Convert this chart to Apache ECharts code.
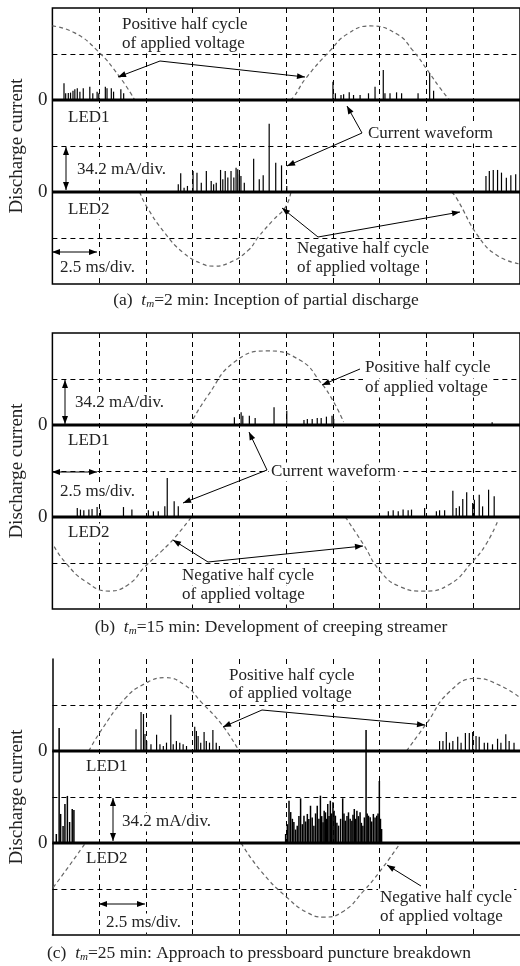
<!DOCTYPE html>
<html><head><meta charset="utf-8">
<script src="https://cdn.jsdelivr.net/npm/echarts@6/dist/echarts.min.js"></script>
<style>html,body{margin:0;padding:0;background:#fff}#c{width:520px;height:966px}</style>
</head><body><div id="c"></div>
<script>
// ---------- axis settings ----------
const T_MIN = 0, T_MAX = 25, T_DIV = 2.5;          // ms, 2.5 ms/div
const Y_MIN = -3, Y_MAX = 3, Y_DIV = 1;            // screen divisions
const MA_PER_DIV = 34.2;                           // 34.2 mA/div
const LED1_OFF = 1, LED2_OFF = -1;                 // trace zero lines (div)
const V_AMP_DIV = 1.61;                            // voltage peak height (div)
const yTickLabels = ['0', '0'];

// ---------- discharge current pulses [time ms, current mA] ----------
const a_led1 = [[0.62,12.4],[0.71,5.0],[0.85,5.2],[0.97,5.5],[1.10,6.9],[1.20,7.9],[1.33,8.7],[1.47,6.2],[1.65,8.7],[2.00,9.9],[2.16,5.0],[2.39,6.2],[2.48,5.0],[2.83,9.9],[2.92,8.7],[3.15,8.7],[3.27,6.2],[3.66,7.9],[3.81,5.0],[15.00,13.6],[15.13,5.0],[15.43,3.7],[15.57,4.2],[15.87,5.7],[16.10,3.7],[16.45,3.7],[16.90,5.0],[17.25,9.9],[17.69,22.3],[17.78,5.0],[18.05,5.0],[18.40,5.7],[18.67,5.0],[19.55,5.0],[20.17,19.8],[20.38,6.9]];
const a_led2 = [[6.73,5.7],[6.86,13.9],[7.04,3.2],[7.22,4.5],[7.52,15.6],[7.73,14.4],[7.96,6.9],[8.23,15.6],[8.49,8.2],[8.62,5.7],[8.76,6.9],[8.99,16.4],[9.11,9.4],[9.24,15.6],[9.38,10.7],[9.55,15.6],[9.70,10.7],[9.82,18.1],[9.91,16.9],[10.00,13.1],[10.08,11.9],[10.26,6.9],[10.76,24.8],[11.06,9.4],[11.27,12.4],[11.59,50.8],[11.94,21.8],[12.25,19.8],[12.53,4.5],[23.18,11.9],[23.36,15.6],[23.57,16.4],[23.80,16.4],[24.01,14.4],[24.27,10.6],[24.51,12.4],[24.77,13.2]];
const b_led1 = [[9.73,5.7],[10.09,9.4],[10.18,6.9],[10.53,6.9],[10.84,5.2],[11.85,13.2],[12.53,10.6],[13.45,3.7],[13.63,4.5],[13.89,4.5],[14.16,5.2],[14.37,5.2],[14.65,6.2],[14.95,6.9],[15.04,4.5],[23.51,2.0]];
const b_led2 = [[1.33,6.7],[1.50,5.5],[1.68,5.0],[1.95,5.5],[2.12,5.9],[2.39,7.4],[2.57,5.5],[3.80,7.4],[4.25,5.5],[5.13,5.0],[5.40,4.2],[5.66,4.2],[6.01,8.0],[6.14,29.0],[6.51,11.7],[6.73,8.0],[17.96,4.2],[18.22,5.0],[18.49,4.2],[18.75,5.5],[19.02,5.0],[19.20,5.5],[19.90,6.7],[20.53,4.2],[20.70,5.0],[20.97,5.0],[21.41,19.6],[21.59,6.7],[21.76,7.9],[21.94,13.4],[22.15,18.4],[22.47,10.4],[22.56,12.9],[22.82,16.6],[23.00,7.9],[23.32,20.3],[23.62,15.4]];
const c_led1 = [[4.47,16.1],[4.74,29.0],[4.87,27.5],[4.95,12.6],[5.04,7.4],[5.27,5.0],[5.57,12.1],[5.75,5.0],[5.93,3.7],[6.10,6.2],[6.33,27.0],[6.46,5.0],[6.63,7.4],[6.81,6.2],[6.99,5.0],[7.17,3.7],[7.61,18.1],[7.70,14.9],[7.79,11.2],[7.93,6.2],[8.11,14.1],[8.23,7.4],[8.40,6.2],[8.58,15.6],[8.76,6.2],[8.93,3.7],[20.70,7.4],[20.88,7.4],[21.06,14.1],[21.23,6.2],[21.41,7.4],[21.67,10.6],[21.85,6.2],[22.08,13.4],[22.29,13.4],[22.47,14.1],[22.65,11.2],[22.82,10.6],[23.09,6.2],[23.27,6.2],[23.53,5.0],[23.80,9.1],[23.98,6.2],[24.24,12.4],[24.42,7.4],[24.68,6.2]];
const c_led2 = [[0.21,6.7],[0.36,85.5],[0.44,21.6],[0.57,12.6],[0.67,29.0],[0.80,35.0],[0.92,15.6],[1.06,25.3],[1.15,24.5],[12.47,6.7],[12.56,14],[12.65,31.4],[12.74,23.0],[12.83,18],[12.91,15.6],[13.00,10],[13.09,12.9],[13.18,20],[13.27,33.2],[13.36,14],[13.45,20.3],[13.54,16],[13.63,21.6],[13.71,17.8],[13.80,27.7],[13.89,19],[13.98,12.9],[14.07,22],[14.16,27.7],[14.25,18],[14.33,35.2],[14.40,20],[14.47,15.4],[14.53,24],[14.60,22.8],[14.66,18],[14.72,29.0],[14.79,20],[14.86,31.4],[14.93,22],[15.00,30.3],[15.06,24],[15.13,20.3],[15.21,15],[15.30,12.9],[15.41,18],[15.52,33.2],[15.59,22],[15.66,16.6],[15.75,20],[15.83,22.8],[15.92,18],[16.01,16.6],[16.07,21],[16.14,25.3],[16.21,18],[16.28,24.0],[16.36,20],[16.45,22.8],[16.52,15],[16.60,12.9],[16.68,19],[16.77,84.0],[16.83,22],[16.90,20.3],[16.99,19.1],[17.07,16],[17.16,21.6],[17.25,19],[17.34,20.3],[17.41,22],[17.48,46.1],[17.54,18],[17.60,10.4]];

// ---------- applied voltage half cycles [time ms, per-unit] ----------
const a_vPos1 = [[0.0,1.0],[1.17,0.91],[2.39,0.67],[3.6,0.31],[4.4,0.0]];
const a_vNeg1 = [[4.67,0],[5.0,-0.18],[6.0,-0.55],[7.0,-0.82],[8.0,-0.97],[8.6,-1.0],[9.5,-0.95],[10.5,-0.78],[11.0,-0.61],[11.8,-0.38],[12.47,-0.2],[12.75,0]];
const a_vPos2 = [[12.7,0],[12.9,0.04],[13.54,0.29],[14.86,0.67],[15.77,0.89],[16.99,1.0],[18.42,0.89],[19.27,0.67],[20.06,0.4],[20.7,0.17],[21.23,0.0]];
const a_vNeg2 = [[21.35,0],[21.6,-0.08],[22.8,-0.61],[23.8,-0.86],[24.95,-0.97]];
const b_vNeg1 = [[0.1,-0.4],[0.71,-0.62],[1.77,-0.87],[3.01,-1.0],[4.07,-0.91],[4.95,-0.67],[5.84,-0.46],[6.54,-0.28],[7.43,0]];
const b_vPos1 = [[7.34,0],[8.32,0.4],[9.73,0.85],[11.5,1.0],[13.27,0.87],[14.33,0.58],[15.04,0.31],[15.57,0.04]];
const b_vNeg2 = [[15.66,0],[16.63,-0.37],[17.52,-0.73],[18.58,-0.94],[19.82,-1.0],[21.23,-0.91],[22.47,-0.6],[23.18,-0.37],[23.8,-0.06]];
const c_vNeg1 = [[0.05,-0.6],[0.89,-0.31],[1.77,0]];
const c_vPos1 = [[1.95,0],[2.56,0.26],[3.89,0.71],[4.95,0.91],[6.01,0.99],[7.08,0.89],[7.96,0.66],[9.02,0.37],[9.91,0.03]];
const c_vNeg2 = [[10.09,0],[11.15,-0.38],[12.56,-0.74],[13.63,-0.94],[14.51,-1.0],[15.57,-0.92],[16.63,-0.65],[17.52,-0.38],[18.49,-0.04]];
const c_vPos2 = [[18.93,0],[20.0,0.37],[21.23,0.8],[22.65,0.98],[23.89,0.89],[24.95,0.73]];

// ---------- texts ----------
const yName = 'Discharge current';
const captions = [
  ['(a)  ', '=2 min: Inception of partial discharge'],
  ['(b)  ', '=15 min: Development of creeping streamer'],
  ['(c)  ', '=25 min: Approach to pressboard puncture breakdown']
];

// ---------- build ----------
const FONT = '"Liberation Serif", "Times New Roman", serif';
const TXT = '#222';
const gridTops = [8, 333, 659];
const grids = gridTops.map((t, i) => ({
  left: 50, top: t, width: 471, height: 276,
  show: i < 2, borderColor: '#000', borderWidth: 1.5, backgroundColor: 'transparent'
}));
const dashed = {color: '#000', type: [5, 4], width: 1};
const xAxes = grids.map((g, i) => ({
  type: 'value', gridIndex: i, min: T_MIN, max: T_MAX, interval: T_DIV,
  axisLine: {show: i === 2, onZero: false, lineStyle: {color: '#000', width: 1.5}},
  axisTick: {show: false}, axisLabel: {show: false},
  splitLine: {show: true, lineStyle: dashed, showMinLine: false, showMaxLine: false}
}));
const yAxes = grids.map((g, i) => ({
  type: 'value', gridIndex: i, min: Y_MIN, max: Y_MAX, interval: Y_DIV,
  axisLine: {show: i === 2, onZero: false, lineStyle: {color: '#000', width: 1.5}},
  axisTick: {show: false},
  axisLabel: {formatter: v => v === LED1_OFF ? yTickLabels[0] : (v === LED2_OFF ? yTickLabels[1] : ''),
              fontSize: 19, fontFamily: FONT, color: TXT, margin: 5},
  splitLine: {show: true, lineStyle: dashed, showMinLine: false, showMaxLine: false},
  name: yName, nameLocation: 'middle', nameGap: 22,
  nameTextStyle: {fontSize: 19, fontFamily: FONT, color: TXT}
}));

const series = [];
function volt(gi, off, data) {
  series.push({type: 'line', xAxisIndex: gi, yAxisIndex: gi, smooth: true, showSymbol: false, silent: true,
    data: data.map(d => [d[0], off + d[1] * V_AMP_DIV]),
    lineStyle: {color: '#666', width: 1.2, type: [4, 3]}, z: 2});
}
function baseline(gi, off) {
  series.push({type: 'line', xAxisIndex: gi, yAxisIndex: gi, showSymbol: false, silent: true,
    data: [[T_MIN, off], [T_MAX, off]], lineStyle: {color: '#000', width: 2.8}, z: 3});
}
function pulses(gi, off, data, w) {
  series.push({type: 'custom', xAxisIndex: gi, yAxisIndex: gi, silent: true, data: data, z: 4,
    renderItem: (p, api) => {
      const a = api.coord([api.value(0), off]);
      const b = api.coord([api.value(0), off + api.value(1) / MA_PER_DIV]);
      return {type: 'line', shape: {x1: a[0], y1: a[1], x2: b[0], y2: b[1]},
              style: {stroke: '#000', lineWidth: w}};
    }});
}
[a_vPos1, a_vPos2].forEach(d => volt(0, LED1_OFF, d));
[a_vNeg1, a_vNeg2].forEach(d => volt(0, LED2_OFF, d));
[b_vPos1].forEach(d => volt(1, LED1_OFF, d));
[b_vNeg1, b_vNeg2].forEach(d => volt(1, LED2_OFF, d));
[c_vPos1, c_vPos2].forEach(d => volt(2, LED1_OFF, d));
[c_vNeg1, c_vNeg2].forEach(d => volt(2, LED2_OFF, d));
[0, 1, 2].forEach(g => { baseline(g, LED1_OFF); baseline(g, LED2_OFF); });
pulses(0, LED1_OFF, a_led1, 1.2); pulses(0, LED2_OFF, a_led2, 1.2);
pulses(1, LED1_OFF, b_led1, 1.2); pulses(1, LED2_OFF, b_led2, 1.2);
pulses(2, LED1_OFF, c_led1, 1.2); pulses(2, LED2_OFF, c_led2, 1.5);

// ---------- annotations ----------
const G = [];
function text(x, y, s) {
  G.push({type: 'text', x: x, y: y, z: 100,
    style: {text: s, font: '17px ' + FONT, fill: TXT, align: 'left', verticalAlign: 'middle',
            backgroundColor: '#fff', padding: [1, 2, 1, 2]}});
}
function head(x1, y1, x2, y2) {
  const dx = x2 - x1, dy = y2 - y1, L = Math.hypot(dx, dy), ux = dx / L, uy = dy / L;
  const len = 8, hw = 3, bx = x2 - ux * len, by = y2 - uy * len;
  G.push({type: 'polygon', z: 101, shape: {points: [[x2, y2], [bx - uy * hw, by + ux * hw], [bx + uy * hw, by - ux * hw]]},
          style: {fill: '#000'}});
}
function arrow(x1, y1, x2, y2, both) {
  G.push({type: 'line', z: 101, shape: {x1: x1, y1: y1, x2: x2, y2: y2}, style: {stroke: '#000', lineWidth: 1}});
  head(x1, y1, x2, y2);
  if (both) head(x2, y2, x1, y1);
}
function caption(cx, y, c) {
  G.push({type: 'text', x: cx, y: y, z: 100,
    style: {text: c[0] + '{i|t}{s|m}' + c[1], font: '17.5px ' + FONT, fill: TXT, align: 'center', verticalAlign: 'middle',
      rich: {i: {fontStyle: 'italic', fontSize: 17.5, fontFamily: FONT, fill: TXT},
             s: {fontStyle: 'italic', fontSize: 11, fontFamily: FONT, fill: TXT, verticalAlign: 'bottom', padding: [8, 0, 0, 0]}}}});
}
// (a)
text(120, 25, 'Positive half cycle'); text(120, 44, 'of applied voltage');
arrow(160, 61, 118, 77); arrow(160, 61, 305, 77);
text(66, 118, 'LED1'); text(66, 210, 'LED2');
text(366, 134, 'Current waveform');
arrow(362, 133, 347, 106); arrow(362, 133, 287, 166);
text(75, 170, '34.2 mA/div.'); arrow(66, 147, 66, 190, true);
text(58, 268, '2.5 ms/div.'); arrow(52, 252, 97, 252, true);
text(295, 249, 'Negative half cycle'); text(295, 268, 'of applied voltage');
arrow(318, 237, 282, 208); arrow(318, 237, 460, 212);
caption(266, 300, captions[0]);
// (b)
text(363, 368, 'Positive half cycle'); text(363, 388, 'of applied voltage');
arrow(360, 369, 322, 385);
text(73, 403, '34.2 mA/div.'); arrow(65, 380, 65, 424, true);
text(66, 441, 'LED1');
text(269, 472, 'Current waveform');
arrow(267, 470, 249, 432); arrow(267, 470, 183, 503);
text(58, 492, '2.5 ms/div.'); arrow(52, 472, 97, 472, true);
text(66, 533, 'LED2');
text(180, 576, 'Negative half cycle'); text(180, 595, 'of applied voltage');
arrow(208, 562, 173, 540); arrow(208, 562, 363, 546);
caption(271, 627, captions[1]);
// (c)
text(227, 676, 'Positive half cycle'); text(227, 694, 'of applied voltage');
arrow(262, 710, 223, 727); arrow(262, 710, 425, 725);
text(84, 767, 'LED1'); text(84, 859, 'LED2');
text(120, 822, '34.2 mA/div.'); arrow(113, 798, 113, 841, true);
text(104, 923, '2.5 ms/div.'); arrow(99, 904, 145, 904, true);
text(378, 898, 'Negative half cycle'); text(378, 917, 'of applied voltage');
arrow(421, 886, 387, 865);
caption(259, 953, captions[2]);

const chart = echarts.init(document.getElementById('c'), null, {renderer: 'canvas'});
chart.setOption({
  animation: false, backgroundColor: '#fff',
  grid: grids, xAxis: xAxes, yAxis: yAxes, series: series,
  graphic: {elements: G}
});
</script></body></html>
